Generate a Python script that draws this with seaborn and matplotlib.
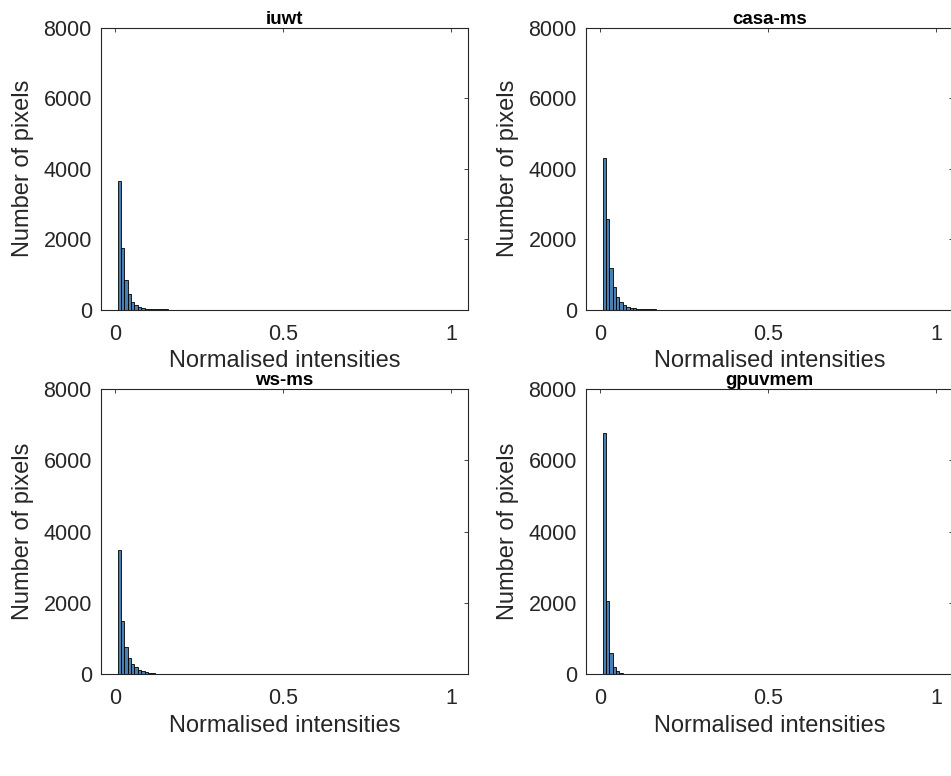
import pandas as pd
import matplotlib
matplotlib.use("Agg")
import matplotlib.pyplot as plt
import seaborn as sns

# bin edges of the histograms (width 0.01, starting just above zero)
bin_start = 0.008
bin_width = 0.01
n_bins = 30
edges = [round(bin_start + i * bin_width, 5) for i in range(n_bins + 1)]
centres = [e + bin_width / 2 for e in edges[:-1]]

titles = ["iuwt", "casa-ms", "ws-ms", "gpuvmem"]

# pixel counts per bin
iuwt = [3640, 1760, 840, 440, 225, 125, 78, 48, 30, 20,
        14, 10, 7, 5, 4, 3, 3, 2, 2, 2,
        1, 1, 1, 1, 1, 1, 1, 1, 1, 1]
casa_ms = [4300, 2560, 1170, 630, 360, 215, 135, 87, 55, 35,
           22, 15, 10, 7, 5, 4, 3, 2, 2, 2,
           1, 1, 1, 1, 1, 1, 1, 1, 0, 0]
ws_ms = [3490, 1500, 780, 470, 300, 200, 130, 90, 60, 40,
         28, 20, 14, 10, 7, 5, 4, 3, 3, 2,
         2, 1, 1, 1, 1, 1, 1, 1, 1, 1]
gpuvmem = [6760, 2050, 600, 200, 80, 40, 20, 10, 6, 4,
           3, 2, 2, 1, 1, 1, 1, 1, 0, 0,
           0, 0, 0, 0, 0, 0, 0, 0, 0, 0]

counts = [iuwt, casa_ms, ws_ms, gpuvmem]

sns.set_style("white")
plt.rcParams['font.family'] = ['Liberation Sans', 'DejaVu Sans']

fig = plt.figure(figsize=(9.51, 7.76), dpi=100)
positions = [
    [0.106, 0.601, 0.386, 0.363],
    [0.616, 0.601, 0.386, 0.363],
    [0.106, 0.131, 0.386, 0.368],
    [0.616, 0.131, 0.386, 0.368],
]

for pos, title, c in zip(positions, titles, counts):
    ax = fig.add_axes(pos)
    df = pd.DataFrame({"x": centres, "n": c})
    sns.histplot(data=df, x="x", weights="n", bins=edges, ax=ax,
                 color="#3f79ad", alpha=0.95, edgecolor="black", linewidth=0.6)
    ax.set_xlim(-0.042, 1.05)
    ax.set_ylim(0, 8000)
    ax.set_xticks([0, 0.5, 1])
    ax.set_xticklabels(["0", "0.5", "1"])
    ax.set_yticks([0, 2000, 4000, 6000, 8000])
    ax.tick_params(direction="in", length=3, width=0.6, top=True, right=True,
                   labelsize=15.5, colors="#262626")
    ax.tick_params(axis="x", pad=10)
    ax.tick_params(axis="y", pad=6.5)
    for sp in ax.spines.values():
        sp.set_color("#262626")
        sp.set_linewidth(0.8)
    ax.set_title(title, fontsize=13.5, fontweight="bold", color="black", pad=3)
    ax.set_xlabel("Normalised intensities", fontsize=17, color="#262626", labelpad=4)
    ax.set_ylabel("Number of pixels", fontsize=17, color="#262626", labelpad=7)

fig.savefig("out.png", dpi=100)
